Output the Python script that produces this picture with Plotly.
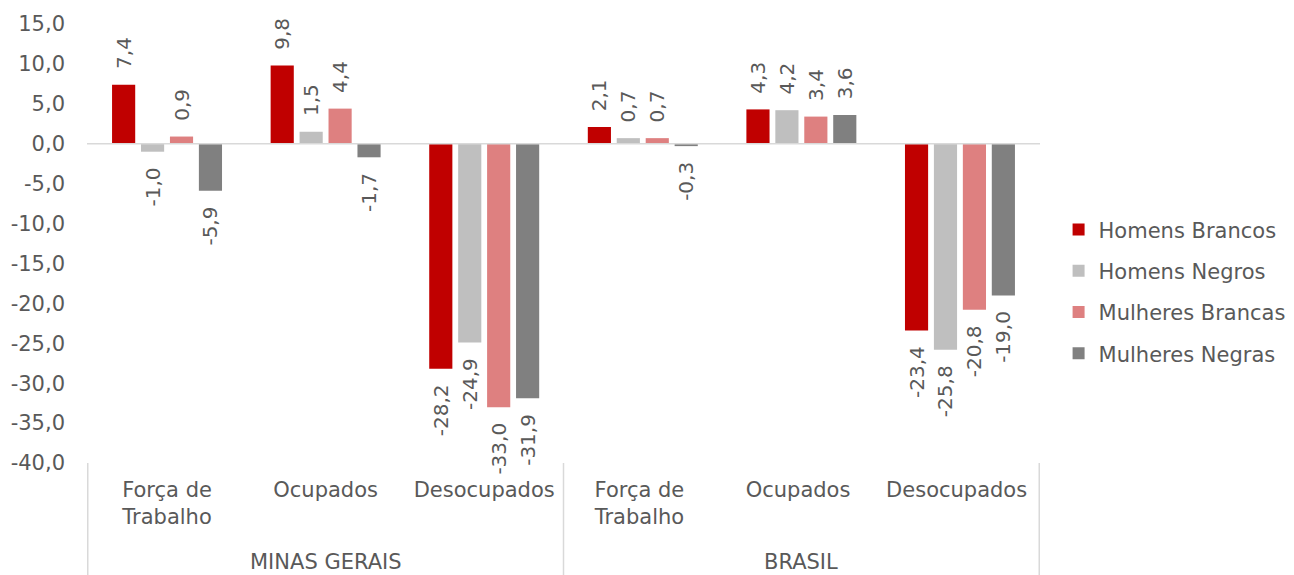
import plotly.graph_objects as go

categories = ["Força de<br>Trabalho", "Ocupados", "Desocupados",
              "Força de <br>Trabalho ", "Ocupados ", "Desocupados "]
regions = ["MINAS GERAIS", "BRASIL"]

homens_brancos = [7.4, 9.8, -28.2, 2.1, 4.3, -23.4]
homens_negros = [-1.0, 1.5, -24.9, 0.7, 4.2, -25.8]
mulheres_brancas = [0.9, 4.4, -33.0, 0.7, 3.4, -20.8]
mulheres_negras = [-5.9, -1.7, -31.9, -0.3, 3.6, -19.0]

y_ticks = [15, 10, 5, 0, -5, -10, -15, -20, -25, -30, -35, -40]

series = [
    ("Homens Brancos", homens_brancos, "#C00000"),
    ("Homens Negros", homens_negros, "#BFBFBF"),
    ("Mulheres Brancas", mulheres_brancas, "#DE8080"),
    ("Mulheres Negras", mulheres_negras, "#808080"),
]

FONT = "DejaVu Sans, Arial, sans-serif"
TXT = "#595959"
FS = 21
PAD = "\u00a0\u00a0"


def fmt(v):
    return f"{v:.1f}".replace(".", ",")


fig = go.Figure()
for i, (name, vals, color) in enumerate(series):
    labels = [PAD + fmt(v) if v >= 0 else fmt(v) + PAD for v in vals]
    fig.add_trace(go.Bar(
        x=categories, y=vals, name=name, legendgroup=f"g{i}",
        marker=dict(color=color, line=dict(width=0)),
        text=labels, textposition="outside", textangle=-90,
        constraintext="none",
        textfont=dict(size=20, color=TXT, family=FONT),
        cliponaxis=False, hoverinfo="x+y+name",
    ))

# divider lines and region labels under the axis
for xv in [-0.5, 2.5, 5.5]:
    fig.add_shape(type="line", xref="x", yref="paper", x0=xv, x1=xv, y0=0, y1=-0.26,
                  line=dict(color="#D9D9D9", width=1.5))
for k, reg in enumerate(regions):
    fig.add_annotation(text=reg, xref="x", yref="paper", x=1 + 3 * k, y=-0.226,
                       showarrow=False, yanchor="middle",
                       font=dict(size=FS, color=TXT, family=FONT))

fig.add_hline(y=0, line=dict(color="#D9D9D9", width=1.5))

# page body keeps its default 8px margin, so the figure is 8px smaller
fig.update_layout(
    width=1286, height=567,
    margin=dict(l=79, r=254, t=16, b=112, autoexpand=False),
    plot_bgcolor="#ffffff", paper_bgcolor="#ffffff",
    separators=",.",
    barmode="group", bargap=0.27, bargroupgap=0.2,
    font=dict(family=FONT, size=FS, color=TXT),
    showlegend=True,
    legend=dict(x=1.0195, y=0.39, yanchor="middle", tracegroupgap=11, itemwidth=30,
                font=dict(size=FS, color=TXT, family=FONT)),
)
fig.update_yaxes(range=[-40, 15], tickvals=y_ticks, ticktext=[fmt(v) for v in y_ticks],
                 showgrid=False, zeroline=False, showline=False, ticks="",
                 ticklabelstandoff=21, automargin=False,
                 tickfont=dict(size=FS, color=TXT))
fig.update_xaxes(showgrid=False, showline=False, ticks="", ticklabelstandoff=12,
                 automargin=False, tickfont=dict(size=FS, color=TXT))

fig.write_html("out.html")
